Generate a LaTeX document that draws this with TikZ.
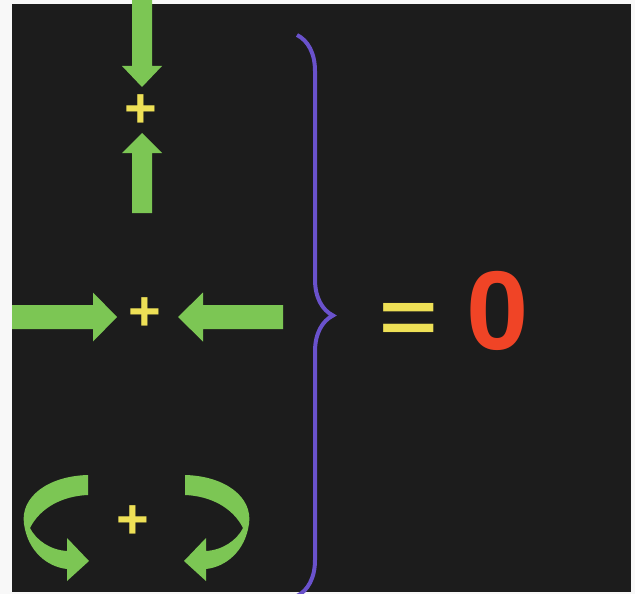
\documentclass[tikz,border=0pt]{standalone}
\usepackage{fontspec}
\setmainfont{Liberation Sans}
\usetikzlibrary{decorations.pathreplacing,positioning,calc}
\definecolor{bgdark}{RGB}{28,28,28}
\definecolor{margingray}{RGB}{248,248,248}
\definecolor{forcegreen}{RGB}{124,198,84}
\definecolor{plusyellow}{RGB}{238,224,86}
\definecolor{bracepurple}{RGB}{106,82,204}
\definecolor{zerored}{RGB}{240,68,38}

\begin{document}
\begin{tikzpicture}[
  x=1pt, y=-1pt,
  plus/.style={inner sep=0pt, text=plusyellow,
    font=\fontsize{56}{56}\selectfont\bfseries},
  eqtext/.style={inner sep=0pt, text=plusyellow,
    font=\fontsize{100}{100}\selectfont\bfseries},
  zerotext/.style={inner sep=0pt, text=zerored,
    font=\fontsize{112}{112}\selectfont\bfseries},
  force/.style={fill=forcegreen, draw=none},
  bracestyle/.style={draw=bracepurple, line width=4pt, decorate,
    decoration={brace, amplitude=36pt}}
]
  % Background
  \useasboundingbox (0,0) rectangle (635,594);
  \fill[margingray] (0,0) rectangle (635,594);
  \fill[bgdark] (12,4) rectangle (631,592);

  % Points of application
  \node[plus] (pv) at (141,111) {+};
  \node[plus] (ph) at (145,314) {+};
  \node[plus] (pr) at (133,522) {+};

  % Straight forces: tip x / tip y / angle / length / half shaft / half head / head length
  \foreach \tx/\ty/\ang/\len/\sw/\hw/\hl in {142/87/-90/90/10/20/21,
                                             142/133/90/80/10/20/20,
                                             117/317/0/105/12/24.5/24,
                                             178/317/180/105/12/24.5/25} {
    \fill[force, shift={(\tx,\ty)}, rotate=\ang]
      (0,0) -- (-\hl,\hw) -- (-\hl,\sw) -- (-\len,\sw)
      -- (-\len,-\sw) -- (-\hl,-\sw) -- (-\hl,-\hw) -- cycle;
  }

  % Turning forces (mirrored pair)
  \foreach \s in {1,-1} {
    \begin{scope}[shift={(136.5,0)}, xscale=\s]
      \fill[force]
        (-48.5,475) .. controls (-88.5,476) and (-116.5,497) .. (-112.5,524)
        .. controls (-108.5,552) and (-88.5,567) .. (-69.5,569)
        -- (-69.5,581) -- (-47.5,561) -- (-69.5,538) -- (-69.5,551)
        .. controls (-86.5,550) and (-100.5,540) .. (-106.5,528)
        .. controls (-96.5,508) and (-74.5,496) .. (-48.5,495) -- cycle;
    \end{scope}
  }

  % Brace and result
  \coordinate (btop) at (297,35);
  \coordinate (bbot) at (297,596);
  \draw[bracestyle] (btop) -- (bbot);
  \node[eqtext] (eq) at (409,323) {\scalebox{1}[0.77]{=}};
  \node[zerotext] (zero) at (498,311) {0};
\end{tikzpicture}
\end{document}
